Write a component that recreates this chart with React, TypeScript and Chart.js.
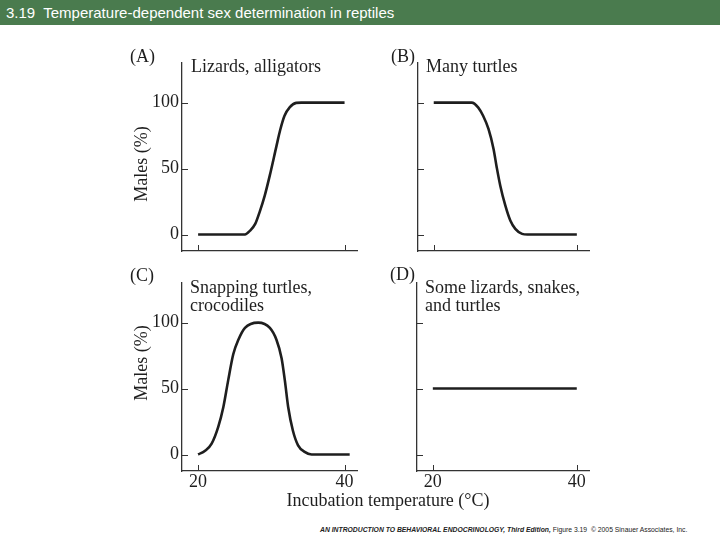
import React, { useEffect, useRef } from "react";
import { Chart, registerables } from "chart.js";

Chart.register(...registerables);

// ---- data ----
const xTicks = [20, 40];
const yTicks = [0, 50, 100];
const yTickLabels = ["0", "50", "100"];

const tempA = [20, 26.4, 27.1, 27.8, 28.4, 29.1, 29.8, 30.7, 31.2, 31.8, 32.5, 33.4, 34.1, 40];
const malesA = [0, 0, 3, 8, 17, 29.5, 45, 67, 79, 90, 96.4, 99.8, 100, 100];

const tempB = [20, 25.3, 26.2, 26.9, 27.65, 28.35, 28.8, 29.3, 30.0, 30.7, 31.4, 32.35, 33.1, 40];
const malesB = [100, 100, 96.4, 90, 80, 65, 51, 37, 22, 10.6, 4.3, 0.5, 0, 0];

const tempC = [20, 20.95, 21.85, 22.75, 23.45, 24.1, 24.8, 25.5, 26.4, 28.2, 29.8, 30.7, 31.4, 31.85, 32.3, 32.95, 33.65, 34.55, 35.5, 40.7];
const malesC = [0, 2.8, 8.3, 21, 36, 56, 76, 87, 96, 100, 96, 87, 73, 56, 36, 18, 7, 2, 0, 0];

const tempD = [20, 40];
const malesD = [50, 50];

const SERIF = "'Liberation Serif', 'Times New Roman', serif";
const INK = "#1e1e1e";

const inwardTicks = {
  id: "inwardTicks",
  afterDraw(chart: any) {
    const { ctx, chartArea, scales } = chart;
    ctx.save();
    ctx.strokeStyle = "#333";
    ctx.lineWidth = 1;
    ctx.beginPath();
    scales.x.ticks.forEach((t: any) => {
      const px = Math.round(scales.x.getPixelForValue(t.value)) + 0.5;
      ctx.moveTo(px, chartArea.bottom);
      ctx.lineTo(px, chartArea.bottom - 6);
    });
    scales.y.ticks.forEach((t: any) => {
      const py = Math.round(scales.y.getPixelForValue(t.value)) + 0.5;
      ctx.moveTo(chartArea.left, py);
      ctx.lineTo(chartArea.left + 6, py);
    });
    ctx.stroke();
    ctx.restore();
  },
};

type PanelProps = {
  left: number;
  top: number;
  width: number;
  height: number;
  yAxisWidth: number;
  xs: number[];
  ys: number[];
  showX: boolean;
  showY: boolean;
};

function Panel(p: PanelProps) {
  const ref = useRef<HTMLCanvasElement>(null);
  useEffect(() => {
    if (!ref.current) return;
    const data = p.xs.map((x, i) => ({ x, y: p.ys[i] }));
    const chart = new Chart(ref.current, {
      type: "line",
      data: {
        datasets: [
          {
            data,
            borderColor: INK,
            borderWidth: 2.6,
            pointRadius: 0,
            fill: false,
            cubicInterpolationMode: "monotone",
          },
        ],
      },
      options: {
        animation: false,
        responsive: false,
        devicePixelRatio: 1,
        layout: { padding: { top: 20, right: 8, left: 0, bottom: 0 } },
        plugins: { legend: { display: false }, tooltip: { enabled: false } },
        scales: {
          x: {
            type: "linear",
            min: 17.8,
            max: 41.7,
            afterBuildTicks: (s: any) => {
              s.ticks = xTicks.map((v) => ({ value: v }));
            },
            afterFit: (s: any) => {
              s.height = 22;
            },
            grid: { display: false, drawTicks: false },
            border: { display: true, color: "#333", width: 1.3 },
            ticks: {
              display: p.showX,
              padding: 2,
              color: INK,
              font: { family: SERIF, size: 18, lineHeight: 1 },
              maxRotation: 0,
              callback: (v: any) => String(v),
            },
          },
          y: {
            type: "linear",
            min: -12.5,
            max: 130,
            afterBuildTicks: (s: any) => {
              s.ticks = yTicks.map((v) => ({ value: v }));
            },
            afterFit: (s: any) => {
              s.width = p.yAxisWidth;
            },
            grid: { display: false, drawTicks: false },
            border: { display: true, color: "#333", width: 1.3 },
            ticks: {
              display: p.showY,
              padding: 3,
              color: INK,
              font: { family: SERIF, size: 18, lineHeight: 1 },
              callback: (v: any) => yTickLabels[yTicks.indexOf(v)] ?? String(v),
            },
          },
        },
      },
      plugins: [inwardTicks],
    } as any);
    return () => chart.destroy();
  }, []);
  return (
    <canvas
      ref={ref}
      width={p.width}
      height={p.height}
      style={{ position: "absolute", left: p.left, top: p.top, width: p.width, height: p.height }}
    />
  );
}

const txt = (s: string, left: number, cy: number, extra: any = {}) => (
  <div
    style={{
      position: "absolute",
      left,
      top: cy,
      transform: "translateY(-50%)",
      fontFamily: SERIF,
      fontSize: 18,
      lineHeight: 1,
      color: INK,
      whiteSpace: "nowrap",
      ...extra,
    }}
  >
    {s}
  </div>
);

const rotated = (s: string, cx: number, cy: number) => (
  <div
    style={{
      position: "absolute",
      left: cx,
      top: cy,
      transform: "translate(-50%, -50%) rotate(-90deg)",
      fontFamily: SERIF,
      fontSize: 18,
      lineHeight: 1,
      color: INK,
      whiteSpace: "nowrap",
    }}
  >
    {s}
  </div>
);

export default function App() {
  return (
    <div style={{ position: "fixed", left: 0, top: 0, width: 720, height: 540, background: "#fff", overflow: "hidden" }}>
      <div
        style={{
          position: "absolute",
          left: 0,
          top: 0,
          width: 720,
          height: 25,
          background: "rgb(74,123,78)",
          color: "#fff",
          fontFamily: "'Liberation Sans', Arial, sans-serif",
          fontSize: 15,
          lineHeight: "26px",
          paddingLeft: 6,
          whiteSpace: "pre",
          boxSizing: "border-box",
        }}
      >
        {"3.19  Temperature-dependent sex determination in reptiles"}
      </div>

      <Panel left={120} top={43} width={245} height={230} yAxisWidth={62} xs={tempA} ys={malesA} showX={false} showY={true} />
      <Panel left={380} top={43} width={217} height={230} yAxisWidth={38} xs={tempB} ys={malesB} showX={false} showY={false} />
      <Panel left={120} top={263} width={245} height={230} yAxisWidth={62} xs={tempC} ys={malesC} showX={true} showY={true} />
      <Panel left={380} top={263} width={217} height={230} yAxisWidth={37} xs={tempD} ys={malesD} showX={true} showY={false} />

      {txt("(A)", 130, 56)}
      {txt("Lizards, alligators", 191, 66)}
      {txt("(B)", 391, 56)}
      {txt("Many turtles", 426, 66)}
      {txt("(C)", 130, 275)}
      {txt("Snapping turtles,", 190, 287)}
      {txt("crocodiles", 190, 305)}
      {txt("(D)", 390, 274)}
      {txt("Some lizards, snakes,", 425, 287)}
      {txt("and turtles", 425, 305)}
      {rotated("Males (%)", 141, 164)}
      {rotated("Males (%)", 141, 363)}
      <div
        style={{
          position: "absolute",
          left: 388,
          top: 500,
          transform: "translate(-50%, -50%)",
          fontFamily: SERIF,
          fontSize: 18,
          lineHeight: 1,
          color: INK,
          whiteSpace: "nowrap",
        }}
      >
        Incubation temperature (°C)
      </div>
      <div
        style={{
          position: "absolute",
          left: 320,
          top: 530,
          transform: "translateY(-50%)",
          fontFamily: "'Liberation Sans', Arial, sans-serif",
          fontSize: 6.8,
          lineHeight: 1,
          color: "#222",
          whiteSpace: "pre",
        }}
      >
        <span style={{ fontWeight: "bold", fontStyle: "italic" }}>AN INTRODUCTION TO BEHAVIORAL ENDOCRINOLOGY, Third Edition,</span>
        {" Figure 3.19  © 2005 Sinauer Associates, Inc."}
      </div>
    </div>
  );
}
